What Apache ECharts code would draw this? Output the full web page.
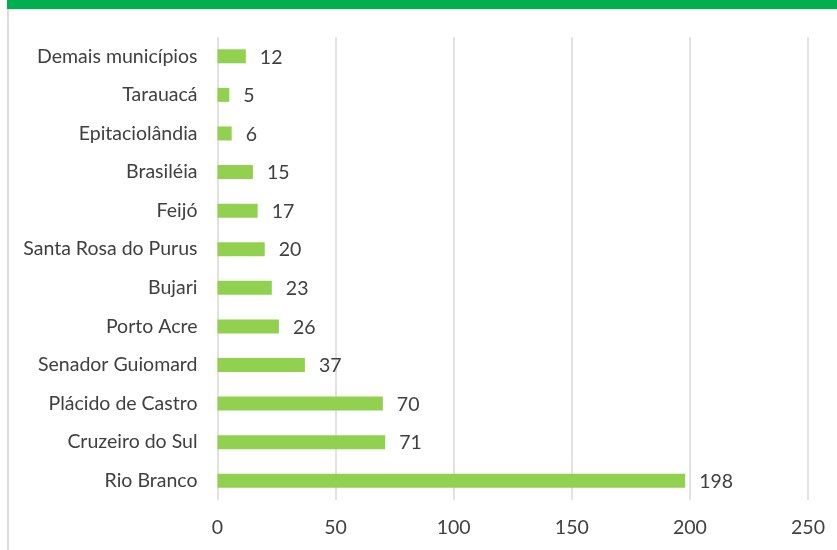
<!DOCTYPE html>
<html>
<head>
<meta charset="utf-8">
<script src="https://cdn.jsdelivr.net/npm/echarts@6/dist/echarts.min.js"></script>
<style>
  html, body { margin: 0; padding: 0; background: #ffffff; }
  #chart { width: 837px; height: 550px; }
</style>
</head>
<body>
<div id="chart"></div>
<script>
// Municípios, listed bottom to top as drawn on the category axis
const municipios = [
  'Rio Branco', 'Cruzeiro do Sul', 'Plácido de Castro', 'Senador Guiomard',
  'Porto Acre', 'Bujari', 'Santa Rosa do Purus', 'Feijó', 'Brasiléia',
  'Epitaciolândia', 'Tarauacá', 'Demais municípios'
];
const valores = [198, 71, 70, 37, 26, 23, 20, 17, 15, 6, 5, 12];
const xTicks = [0, 50, 100, 150, 200, 250];

const textColor = '#404040';
const fontFamily = 'Lato, "Open Sans", sans-serif';
const fontSize = 19.5;

const chart = echarts.init(document.getElementById('chart'), null, { renderer: 'canvas' });
chart.setOption({
  animation: false,
  backgroundColor: '#ffffff',
  graphic: [
    { type: 'rect', shape: { x: 7, y: 0, width: 830, height: 9 }, style: { fill: '#00b050' }, z: 10 },
    { type: 'rect', shape: { x: 7, y: 9, width: 830, height: 1 }, style: { fill: '#e4e4e4' }, z: 10 },
    { type: 'rect', shape: { x: 7, y: 9, width: 2, height: 541 }, style: { fill: '#dcdcdc' }, z: 10 }
  ],
  grid: { left: 217.5, right: 29, top: 37, bottom: 50, containLabel: false },
  xAxis: {
    type: 'value',
    min: xTicks[0],
    max: xTicks[xTicks.length - 1],
    interval: xTicks[1] - xTicks[0],
    axisLine: { show: false },
    axisTick: { show: false },
    splitLine: { show: true, lineStyle: { color: '#d9d9d9', width: 1.5 } },
    axisLabel: { color: textColor, fontSize: fontSize, fontFamily: fontFamily, margin: 18 }
  },
  yAxis: {
    type: 'category',
    data: municipios,
    axisLine: { show: false },
    axisTick: { show: false },
    axisLabel: { color: textColor, fontSize: fontSize, fontFamily: fontFamily, margin: 20 }
  },
  series: [{
    type: 'bar',
    data: valores,
    barWidth: 14,
    itemStyle: { color: '#92d050' },
    label: {
      show: true,
      position: 'right',
      distance: 14,
      offset: [0, 1],
      color: textColor,
      fontSize: fontSize,
      fontFamily: fontFamily
    }
  }]
});
</script>
</body>
</html>
